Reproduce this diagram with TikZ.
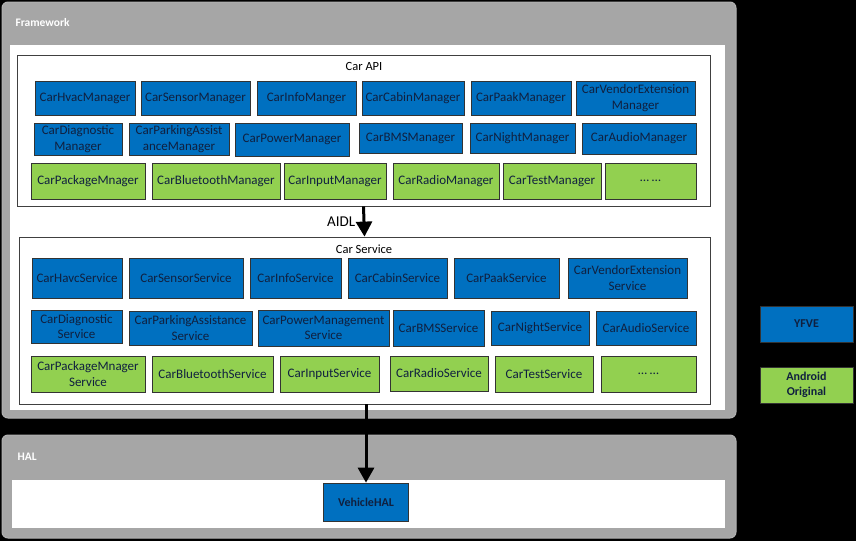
\documentclass[tikz,border=0pt]{standalone}
\usepackage{fontspec}
\setmainfont{Carlito}
\usetikzlibrary{arrows.meta}

\definecolor{yfveblue}{HTML}{0070C0}
\definecolor{origgreen}{HTML}{92D050}
\definecolor{layergray}{HTML}{A6A6A6}
\definecolor{boxtext}{HTML}{10203F}

\tikzset{
  layer/.style={fill=layergray, draw=gray!60, rounded corners=6pt, line width=1pt},
  panel/.style={fill=white, draw=none},
  group/.style={fill=white, draw=black!75, line width=0.8pt},
  yfve/.style={fill=yfveblue, draw=black!80, line width=0.7pt, text=boxtext,
    align=center, inner sep=1pt, font=\fontsize{13}{15.5}\selectfont},
  orig/.style={yfve, fill=origgreen},
  legend/.style={yfve, font=\bfseries\fontsize{12}{15}\selectfont},
  layername/.style={anchor=west, text=white, font=\bfseries\fontsize{11.5}{13}\selectfont},
  flow/.style={line width=3pt, -{Triangle[length=15pt,width=16pt]}},
}

\begin{document}
\begin{tikzpicture}[x=1pt, y=-1pt]
  \fill[black] (0,0) rectangle (856,541);
  \useasboundingbox (0,0) rectangle (856,541);

  % framework layer
  \node (framework) at (369,210)     [layer, minimum width=734, minimum height=416] {};
  \node (fwPanel)   at (367.5,227.5) [panel, minimum width=715, minimum height=365] {};
  \node (fwLabel)   at (12,23)       [layername] {Framework};

  \node (carApi)     at (363.5,130.5) [group, minimum width=693, minimum height=151] {};
  \node (carApiText) at (364,66)      [font=\fontsize{12.5}{14}\selectfont] {Car API};

  \node (hvacMgr)   at (85,98)    [yfve, minimum width=100, minimum height=34] {CarHvacManager};
  \node (sensorMgr) at (195.5,98) [yfve, minimum width=109, minimum height=34] {CarSensorManager};
  \node (infoMgr)   at (306.5,98) [yfve, minimum width=99,  minimum height=34] {CarInfoManger};
  \node (cabinMgr)  at (413,98)   [yfve, minimum width=102, minimum height=34] {CarCabinManager};
  \node (paakMgr)   at (521,98)   [yfve, minimum width=100, minimum height=34] {CarPaakManager};
  \node (vendorMgr) at (635.5,98) [yfve, minimum width=119, minimum height=34] {CarVendorExtension\\Manager};

  \node (diagMgr)    at (78,139)    [yfve, minimum width=88,  minimum height=32] {CarDiagnostic\\Manager};
  \node (parkingMgr) at (179,139)   [yfve, minimum width=100, minimum height=32] {CarParkingAssist\\anceManager};
  \node (powerMgr)   at (292,139.5) [yfve, minimum width=114, minimum height=33] {CarPowerManager};
  \node (bmsMgr)     at (410.5,138) [yfve, minimum width=103, minimum height=30] {CarBMSManager};
  \node (nightMgr)   at (522.5,138) [yfve, minimum width=105, minimum height=30] {CarNightManager};
  \node (audioMgr)   at (639,138.5) [yfve, minimum width=114, minimum height=31] {CarAudioManager};

  \node (packageMgr) at (88,181)    [orig, minimum width=114, minimum height=36] {CarPackageMnager};
  \node (btMgr)      at (216,181)   [orig, minimum width=128, minimum height=36] {CarBluetoothManager};
  \node (inputMgr)   at (335,181)   [orig, minimum width=102, minimum height=36] {CarInputManager};
  \node (radioMgr)   at (446,181)   [orig, minimum width=106, minimum height=36] {CarRadioManager};
  \node (testMgr)    at (552,181)   [orig, minimum width=98,  minimum height=36] {CarTestManager};
  \node (moreMgr)    at (650.5,181) [orig, minimum width=91,  minimum height=36] {\dots\ \dots};

  \node (carService)     at (364.5,320.5) [group, minimum width=691, minimum height=167] {};
  \node (carServiceText) at (364,249)     [font=\fontsize{12.5}{14}\selectfont] {Car Service};

  \node (hvacSrv)   at (77,278)    [yfve, minimum width=90,  minimum height=40] {CarHavcService};
  \node (sensorSrv) at (186,278)   [yfve, minimum width=114, minimum height=40] {CarSensorService};
  \node (infoSrv)   at (295.5,278) [yfve, minimum width=91,  minimum height=40] {CarInfoService};
  \node (cabinSrv)  at (397.5,278) [yfve, minimum width=99,  minimum height=40] {CarCabinService};
  \node (paakSrv)   at (506.5,278) [yfve, minimum width=105, minimum height=40] {CarPaakService};
  \node (vendorSrv) at (627.5,278) [yfve, minimum width=119, minimum height=40] {CarVendorExtension\\Service};

  \node (diagSrv)    at (76.5,326.5) [yfve, minimum width=91,  minimum height=33] {CarDiagnostic\\Service};
  \node (parkingSrv) at (190.5,328)  [yfve, minimum width=123, minimum height=34] {CarParkingAssistance\\Service};
  \node (powerSrv)   at (323.5,328)  [yfve, minimum width=131, minimum height=36] {CarPowerManagement\\Service};
  \node (bmsSrv)     at (438.5,328)  [yfve, minimum width=91,  minimum height=36] {CarBMSService};
  \node (nightSrv)   at (540,328)    [yfve, minimum width=98,  minimum height=34] {CarNightService};
  \node (audioSrv)   at (646,328)    [yfve, minimum width=100, minimum height=34] {CarAudioService};

  \node (packageSrv) at (88,374)    [orig, minimum width=114, minimum height=36] {CarPackageMnager\\Service};
  \node (btSrv)      at (212.5,374) [orig, minimum width=121, minimum height=36] {CarBluetoothService};
  \node (inputSrv)   at (329.5,374) [orig, minimum width=99,  minimum height=36] {CarInputService};
  \node (radioSrv)   at (439,373.5) [orig, minimum width=98,  minimum height=35] {CarRadioService};
  \node (testSrv)    at (544,374)   [orig, minimum width=98,  minimum height=36] {CarTestService};
  \node (moreSrv)    at (648.5,374) [orig, minimum width=95,  minimum height=36] {\dots\ \dots};

  % hal layer
  \node (hal)        at (369,486.5)   [layer, minimum width=734, minimum height=103] {};
  \node (halPanel)   at (368.5,504)   [panel, minimum width=713, minimum height=48] {};
  \node (halLabel)   at (14,457)      [layername] {HAL};
  \node (vehicleHal) at (366,502)     [yfve, minimum width=85, minimum height=38,
    font=\bfseries\fontsize{12}{14}\selectfont] {VehicleHAL};

  % legend
  \node (yfveKey) at (806.5,324) [legend, minimum width=93, minimum height=36] {YFVE};
  \node (origKey) at (806.5,385) [legend, fill=origgreen, minimum width=93, minimum height=36] {Android\\Original};

  \draw[flow] (carApi.south) -- (carService.north)
    node[midway, left=4pt, font=\fontsize{15}{17}\selectfont] {AIDL};
  \draw[flow] (carService.south -| vehicleHal.north) -- (vehicleHal.north);
\end{tikzpicture}
\end{document}
